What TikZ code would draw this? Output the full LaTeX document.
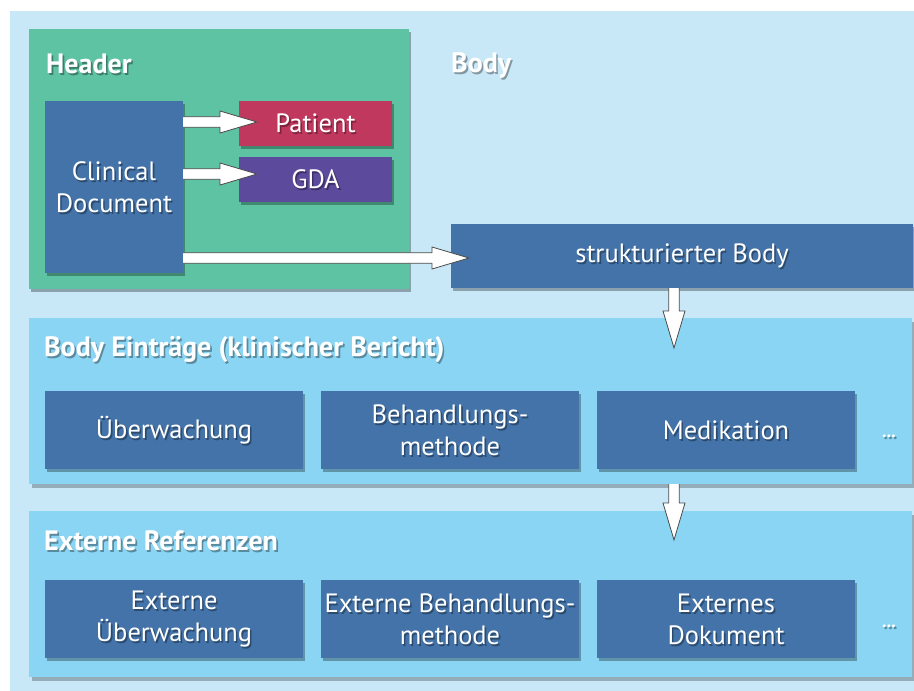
\documentclass[tikz,border=0pt]{standalone}
\usepackage{fontspec}
\setmainfont{PT Sans}
\usetikzlibrary{shadows,calc}

\definecolor{pagebg}{HTML}{C8E8F8}
\definecolor{headgreen}{HTML}{5EC3A3}
\definecolor{docblue}{HTML}{4373A8}
\definecolor{patred}{HTML}{C1385F}
\definecolor{gdapurple}{HTML}{5C4A9C}
\definecolor{panelblue}{HTML}{8AD5F3}
\definecolor{arrowline}{HTML}{4A4A4A}

\tikzset{
  box/.style={fill=docblue, anchor=north west, inner sep=0pt, outer sep=0pt,
    drop shadow={shadow xshift=2pt, shadow yshift=-2.5pt, opacity=0.3, fill=black}},
  panel/.style={fill=panelblue, anchor=north west, inner sep=0pt, outer sep=0pt,
    drop shadow={shadow xshift=2.5pt, shadow yshift=-4pt, opacity=0.25, fill=black}},
  txt/.style={text=white, font=\fontsize{26.5}{32}\selectfont, align=center, inner sep=0pt},
  txtshade/.style={text=black, text opacity=0.35},
  title/.style={font=\bfseries\fontsize{28}{30}\selectfont, anchor=west},
  fatarrow/.style={draw=arrowline, fill=white, line width=0.8pt, line join=miter},
}

% white label with a dark shadow below right
\newcommand\shadedlabel[4][]{%
  \node[txt,#1,txtshade] at ([shift={(1.6pt,-2.2pt)}]#3) {#4};
  \node[txt,#1] (#2) at (#3) {#4};}

% horizontal fat arrow: from #1 to tip #2 (same height as #1)
\newcommand\fatarrowh[2]{%
  \draw[fatarrow] let \p1=(#1), \p2=(#2) in
    (\x1,\y1+5.3pt) -- (\x2-37pt,\y1+5.3pt) -- (\x2-37pt,\y1+11pt) -- (\x2,\y1)
    -- (\x2-37pt,\y1-11pt) -- (\x2-37pt,\y1-5.3pt) -- (\x1,\y1-5.3pt);}
% vertical fat arrow: from #1 down to tip #2
\newcommand\fatarrowv[2]{%
  \draw[fatarrow] let \p1=(#1), \p2=(#2) in
    (\x1-5.3pt,\y1) -- (\x1-5.3pt,\y2+37pt) -- (\x1-11pt,\y2+37pt) -- (\x1,\y2)
    -- (\x1+11pt,\y2+37pt) -- (\x1+5.3pt,\y2+37pt) -- (\x1+5.3pt,\y1);}

\begin{document}
\begin{tikzpicture}[x=1pt,y=-1pt]
\useasboundingbox (0,0) rectangle (914,691);
\fill[white] (0,0) rectangle (914,691);
\fill[pagebg] (10,11) rectangle (914,691);

% header section
\node[box, fill=headgreen, minimum width=380pt, minimum height=260pt] (header) at (29,29) {};
\node[box, minimum width=138pt, minimum height=172pt] (cd) at (45,101) {};
\node[box, fill=patred, minimum width=153pt, minimum height=45pt] (pat) at (239,101) {};
\node[box, fill=gdapurple, minimum width=153pt, minimum height=45pt] (gda) at (239,157) {};

% body
\node[box, minimum width=462pt, minimum height=64pt] (sb) at (451,224) {};
\node[panel, minimum width=883pt, minimum height=166pt] (entries) at (29,318) {};
\node[panel, minimum width=883pt, minimum height=166pt] (refs) at (29,511) {};

\node[box, minimum width=258pt, minimum height=78pt] (e1) at (45,391) {};
\node[box, minimum width=258pt, minimum height=78pt] (e2) at (321,391) {};
\node[box, minimum width=258pt, minimum height=78pt] (e3) at (597,391) {};
\node[box, minimum width=258pt, minimum height=78pt] (r1) at (45,580) {};
\node[box, minimum width=258pt, minimum height=78pt] (r2) at (321,580) {};
\node[box, minimum width=258pt, minimum height=78pt] (r3) at (597,580) {};

% connectors
\coordinate (tpat) at ($(pat.west)+(18,-1.5)$);
\coordinate (tgda) at ($(gda.west)+(18,-5.5)$);
\coordinate (tsb) at ($(sb.west)+(18,2)$);
\fatarrowh{cd.east |- tpat}{tpat}
\fatarrowh{cd.east |- tgda}{tgda}
\fatarrowh{cd.east |- tsb}{tsb}
\coordinate (sbout) at ($(sb.south)+(-8,0)$);
\coordinate (tentries) at ($(sbout |- entries.north)+(0,30)$);
\fatarrowv{sbout}{tentries}
\coordinate (entout) at (sbout |- entries.south);
\coordinate (trefs) at ($(entout |- refs.north)+(0,29)$);
\fatarrowv{entout}{trefs}

% titles
\shadedlabel[title]{th}{46,64}{Header}
\shadedlabel[title]{tb}{451,65}{Body}
\shadedlabel[title]{te}{44,349}{Body Einträge (klinischer Bericht)}
\shadedlabel[title]{tr}{44,541}{Externe Referenzen}

% box texts
\shadedlabel{lcd}{cd.center}{Clinical\\Document}
\shadedlabel{lpat}{pat.center}{Patient}
\shadedlabel{lgda}{gda.center}{GDA}
\shadedlabel{lsb}{sb.center}{strukturierter Body}
\shadedlabel{le1}{e1.center}{Überwachung}
\shadedlabel{le2}{e2.center}{Behandlungs-\\methode}
\shadedlabel{le3}{e3.center}{Medikation}
\shadedlabel{lr1}{r1.center}{Externe\\Überwachung}
\shadedlabel{lr2}{r2.center}{Externe Behandlungs-\\methode}
\shadedlabel{lr3}{r3.center}{Externes\\Dokument}
\shadedlabel[font=\bfseries\fontsize{18}{20}\selectfont]{moree}{889,436}{...}
\shadedlabel[font=\bfseries\fontsize{18}{20}\selectfont]{morer}{889,626}{...}
\end{tikzpicture}
\end{document}
